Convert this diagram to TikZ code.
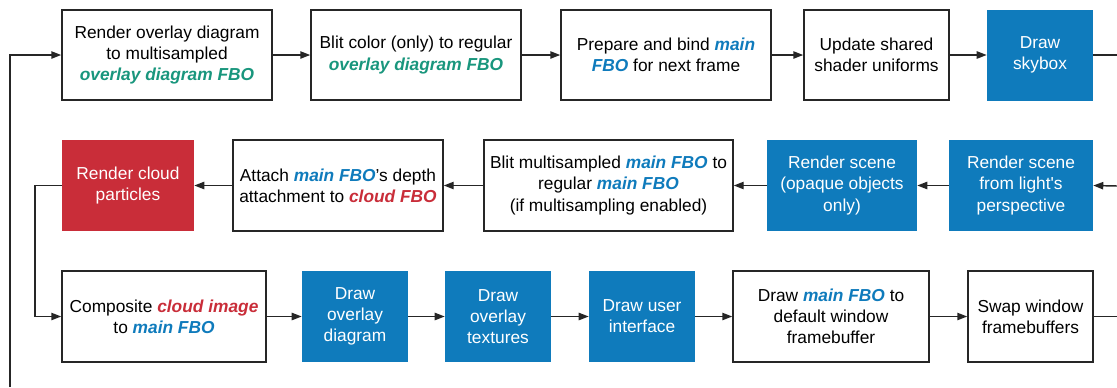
\documentclass[tikz,border=0pt]{standalone}
\usepackage{fontspec}
\setmainfont{Liberation Sans}
\usetikzlibrary{arrows.meta}
\definecolor{fboblue}{HTML}{0F7BBC}
\definecolor{fbored}{HTML}{C92D39}
\definecolor{fbogreen}{HTML}{19967D}
\newcommand\hb[1]{\textcolor{fboblue}{\textbf{\textit{#1}}}}
\newcommand\hr[1]{\textcolor{fbored}{\textbf{\textit{#1}}}}
\newcommand\hg[1]{\textcolor{fbogreen}{\textbf{\textit{#1}}}}
\tikzset{
  base/.style={rectangle, align=center, inner sep=0pt, font=\fontsize{13}{15.8}\selectfont},
  wbox/.style={base, draw=black!85, line width=1.1pt, fill=white, text=black},
  bbox/.style={base, fill=fboblue, text=white},
  rbox/.style={base, fill=fbored, text=white},
  sz/.style 2 args={minimum width=#1*0.75pt, minimum height=#2*0.75pt},
  conn/.style={draw=black!85, line width=1.1pt},
  arr/.style={conn, -{Triangle[length=7.5pt,width=5.5pt]}},
}
\begin{document}
\begin{tikzpicture}[x=0.75pt,y=-0.75pt]
\useasboundingbox (0,0) rectangle (1117,387);
% row 1
\node[wbox, sz={210}{90}] (b1) at (167,55) {Render overlay diagram\\to multisampled\\\hg{overlay diagram FBO}};
\node[wbox, sz={210}{90}] (b2) at (416,55) {Blit color (only) to regular\\\hg{overlay diagram FBO}};
\node[wbox, sz={210}{90}] (b3) at (666,55) {Prepare and bind \hb{main}\\\hb{FBO} for next frame};
\node[wbox, sz={145}{90}] (b4) at (876.5,55) {Update shared\\shader uniforms};
\node[bbox, sz={106}{91}] (b5) at (1040,55) {Draw\\skybox};
% row 2
\node[rbox, sz={132}{91}] (r1) at (128,185.5) {Render cloud\\particles};
\node[wbox, sz={210}{91}] (r2) at (338,185.5) {Attach \hb{main FBO}’s depth\\attachment to \hr{cloud FBO}};
\node[wbox, sz={249}{91}] (r3) at (608.5,185.5) {Blit multisampled \hb{main FBO} to\\regular \hb{main FBO}\\(if multisampling enabled)};
\node[bbox, sz={150}{91}] (r4) at (842,185.5) {Render scene\\(opaque objects\\only)};
\node[bbox, sz={144}{91}] (r5) at (1021,185.5) {Render scene\\from light\textquotesingle s\\perspective};
% row 3
\node[wbox, sz={204}{91}] (c1) at (164,316.5) {Composite \hr{cloud image}\\to \hb{main FBO}};
\node[bbox, sz={106}{91}] (c2) at (355,316.5) {Draw\\overlay\\diagram};
\node[bbox, sz={106}{91}] (c3) at (498,316.5) {Draw\\overlay\\textures};
\node[bbox, sz={106}{91}] (c4) at (642,316.5) {Draw user\\interface};
\node[wbox, sz={196}{91}] (c5) at (831,316.5) {Draw \hb{main FBO} to\\default window\\framebuffer};
\node[wbox, sz={125}{91}] (c6) at (1030.5,316.5) {Swap window\\framebuffers};
% edge coordinates
\coordinate (e1) at (1117,55);
\coordinate (e2) at (1117,186);
\coordinate (e3) at (1117,316.5);
\coordinate (e4) at (10,387);
\coordinate (k1) at (35,185.5);
% connectors
\draw[arr] (b1) -- (b2);
\draw[arr] (b2) -- (b3);
\draw[arr] (b3) -- (b4);
\draw[arr] (b4) -- (b5);
\draw[conn] (b5.east) -- (e1);
\draw[arr] (e2) -- (r5.east);
\draw[arr] (r5) -- (r4);
\draw[arr] (r4) -- (r3);
\draw[arr] (r3) -- (r2);
\draw[arr] (r2) -- (r1);
\draw[arr] (r1.west) -- (k1) |- (c1.west);
\draw[arr] (c1) -- (c2);
\draw[arr] (c2) -- (c3);
\draw[arr] (c3) -- (c4);
\draw[arr] (c4) -- (c5);
\draw[arr] (c5) -- (c6);
\draw[conn] (c6.east) -- (e3);
\draw[arr] (e4) |- (b1.west);
\end{tikzpicture}
\end{document}
